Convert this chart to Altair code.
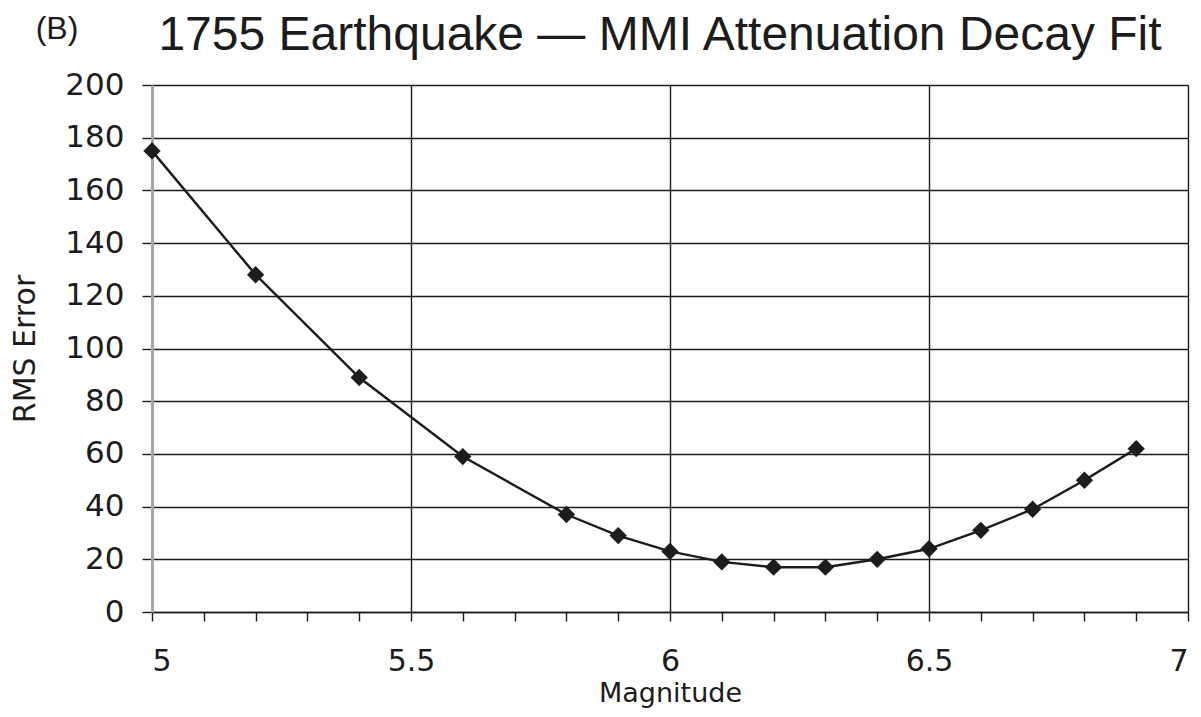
import altair as alt
import pandas as pd

magnitude = [5.0, 5.2, 5.4, 5.6, 5.8, 5.9, 6.0, 6.1, 6.2, 6.3, 6.4, 6.5, 6.6, 6.7, 6.8, 6.9]
rms_error = [175, 128, 89, 59, 37, 29, 23, 19, 17, 17, 20, 24, 31, 39, 50, 62]
x_ticks = [5.0, 5.1, 5.2, 5.3, 5.4, 5.5, 5.6, 5.7, 5.8, 5.9, 6.0,
           6.1, 6.2, 6.3, 6.4, 6.5, 6.6, 6.7, 6.8, 6.9, 7.0]
y_ticks = [0, 20, 40, 60, 80, 100, 120, 140, 160, 180, 200]
panel_label = ["(B)"]
title_text = ["1755 Earthquake \u2014 MMI Attenuation Decay Fit"]

df = pd.DataFrame({"Magnitude": magnitude, "RMS": rms_error})
lab = pd.DataFrame({"t": panel_label})
ttl = pd.DataFrame({"t": title_text})

major = "abs(datum.value*2 - round(datum.value*2)) < 0.001"
ink = "#1c1c1c"

x_enc = alt.X(
    "Magnitude:Q",
    scale=alt.Scale(domain=[5, 7], nice=False, zero=False),
    axis=alt.Axis(
        title="Magnitude", values=x_ticks, format="~g",
        labelExpr=f"{major} ? datum.label : ''",
        grid=True, gridColor=ink, gridWidth=1.4,
        gridOpacity={"condition": {"test": major, "value": 1}, "value": 0},
        tickColor=ink, tickSize=9, tickWidth=1.4,
        domainColor=ink, domainWidth=1.5,
        labelFont="DejaVu Sans", labelFontSize=30, labelColor=ink,
        labelPadding=25,
        titleFont="DejaVu Sans", titleFontSize=27, titleColor=ink,
        titleFontWeight="normal", titlePadding=4,
    ),
)
y_enc = alt.Y(
    "RMS:Q",
    scale=alt.Scale(domain=[0, 200], nice=False),
    axis=alt.Axis(
        title="RMS Error", values=y_ticks,
        grid=True, gridColor=ink, gridWidth=1.4,
        tickColor=ink, tickSize=10, tickWidth=1.4,
        domainColor="#a6a6a6", domainWidth=3,
        labelFont="DejaVu Sans", labelFontSize=31, labelColor=ink,
        labelPadding=18,
        titleFont="DejaVu Sans", titleFontSize=30, titleColor=ink,
        titleFontWeight="normal", titlePadding=24,
    ),
)

line = alt.Chart(df).mark_line(color=ink, strokeWidth=2.4).encode(x=x_enc, y=y_enc)
pts = alt.Chart(df).mark_point(shape="diamond", size=300, filled=True,
                               color=ink, opacity=1).encode(x=x_enc, y=y_enc)
tag = alt.Chart(lab).mark_text(font="Liberation Sans", fontSize=32, color=ink,
                               align="center", baseline="middle").encode(
    text="t:N", x=alt.value(-95), y=alt.value(-56))
head = alt.Chart(ttl).mark_text(font="Liberation Sans", fontSize=48, color=ink,
                                align="center", baseline="alphabetic").encode(
    text="t:N", x=alt.value(508), y=alt.value(-35))

chart = alt.layer(line, pts, tag, head).properties(
    width=1036, height=527,
    autosize=alt.AutoSizeParams(type="none"),
    padding={"left": 144, "top": 77, "right": 5, "bottom": 97},
).configure_view(
    fill="#f3f3f3", stroke="#a6a6a6", strokeWidth=2
).configure(background="white")

chart.save("out.html", embed_options={"renderer": "svg", "actions": False})
